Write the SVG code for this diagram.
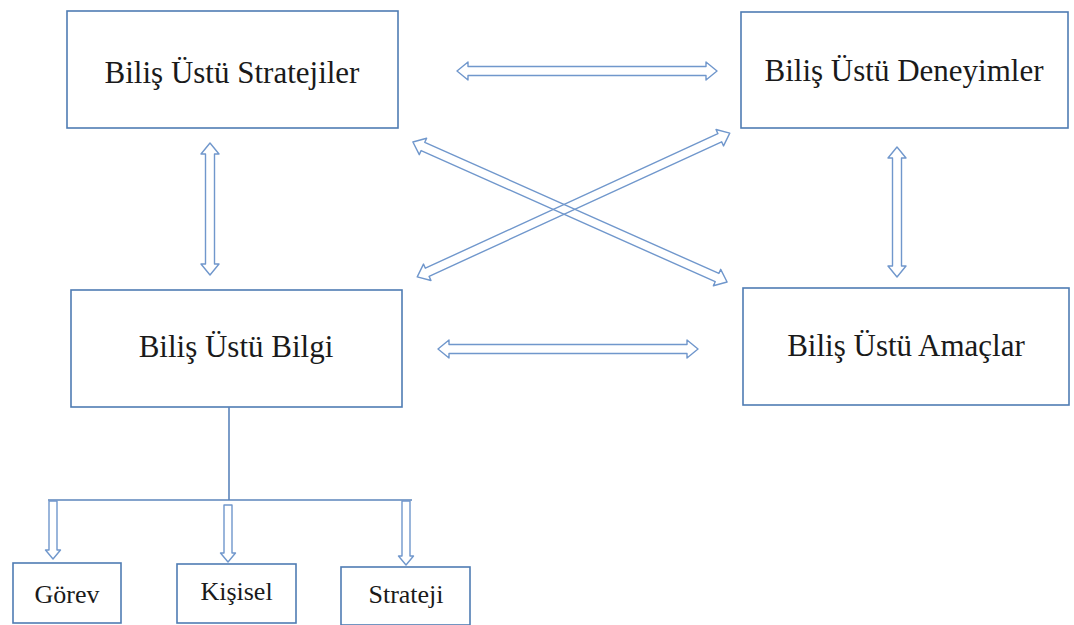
<svg xmlns="http://www.w3.org/2000/svg" width="1074" height="625" viewBox="0 0 1074 625">
  <style>
    .box { fill: #ffffff; stroke: #4f7cb3; stroke-width: 1.6; }
    .lbl { font-family: 'Liberation Serif', 'DejaVu Serif', serif; fill: #1a1a1a; text-anchor: middle; }
    .big { font-size: 31px; }
    .small { font-size: 26px; }
    .dbl { fill: none; stroke: #7097cc; stroke-width: 1.4; stroke-linejoin: round; }
    .line { fill: none; stroke: #5b84bb; stroke-width: 1.6; }
  </style>
  <rect width="1074" height="625" fill="#ffffff"/>

  <!-- main concept boxes -->
  <g id="stratejiler">
    <rect class="box" x="67" y="11" width="331" height="117"/>
    <text class="lbl big" x="232" y="83">Biliş Üstü Stratejiler</text>
  </g>
  <g id="deneyimler">
    <rect class="box" x="741" y="12" width="327" height="116"/>
    <text class="lbl big" x="904" y="81">Biliş Üstü Deneyimler</text>
  </g>
  <g id="bilgi">
    <rect class="box" x="71" y="290" width="331" height="117"/>
    <text class="lbl big" x="236" y="357">Biliş Üstü Bilgi</text>
  </g>
  <g id="amaclar">
    <rect class="box" x="743" y="288" width="326" height="117"/>
    <text class="lbl big" x="906" y="356">Biliş Üstü Amaçlar</text>
  </g>

  <!-- sub boxes of Biliş Üstü Bilgi -->
  <g id="gorev">
    <rect class="box" x="13" y="563" width="108" height="60"/>
    <text class="lbl small" x="67" y="603">Görev</text>
  </g>
  <g id="kisisel">
    <rect class="box" x="177" y="564" width="119" height="59"/>
    <text class="lbl small" x="236.5" y="600">Kişisel</text>
  </g>
  <g id="strateji">
    <rect class="box" x="341" y="567" width="129" height="58"/>
    <text class="lbl small" x="406" y="603">Strateji</text>
  </g>

  <!-- connectors -->
  <g id="connectors">
    <!-- Stratejiler <-> Deneyimler -->
    <polygon class="dbl" points="457,71 468,62 468,66.5 706,66.5 706,62 717,71 706,80 706,75.5 468,75.5 468,80"/>
    <!-- Bilgi <-> Amaçlar -->
    <polygon class="dbl" points="438,349 449,340 449,344.5 687,344.5 687,340 698,349 687,358 687,353.5 449,353.5 449,358"/>
    <!-- Stratejiler <-> Bilgi -->
    <polygon class="dbl" points="210,143 219,154 214.5,154 214.5,264 219,264 210,275 201,264 205.5,264 205.5,154 201,154"/>
    <!-- Deneyimler <-> Amaçlar -->
    <polygon class="dbl" points="897,147 906,158 901.5,158 901.5,266 906,266 897,277 888,266 892.5,266 892.5,158 888,158"/>
    <!-- Stratejiler <-> Amaçlar -->
    <polygon class="dbl" transform="translate(570,212) rotate(24.03)" points="-172,0 -161,-9 -161,-4.5 161,-4.5 161,-9 172,0 161,9 161,4.5 -161,4.5 -161,9"/>
    <!-- Bilgi <-> Deneyimler -->
    <polygon class="dbl" transform="translate(573.5,205) rotate(-24.7)" points="-172,0 -161,-9 -161,-4.5 161,-4.5 161,-9 172,0 161,9 161,4.5 -161,4.5 -161,9"/>

    <!-- tree from Biliş Üstü Bilgi -->
    <line class="line" x1="229" y1="407" x2="229" y2="500"/>
    <line class="line" x1="48" y1="500" x2="412" y2="500"/>
    <polygon class="dbl" points="49,501 57,501 57,550 60.5,550 53,559 45.5,550 49,550"/>
    <polygon class="dbl" points="224,505 232,505 232,553 235.5,553 228,562 220.5,553 224,553"/>
    <polygon class="dbl" points="402,501 410,501 410,556 413.5,556 406,565 398.5,556 402,556"/>
  </g>
</svg>
